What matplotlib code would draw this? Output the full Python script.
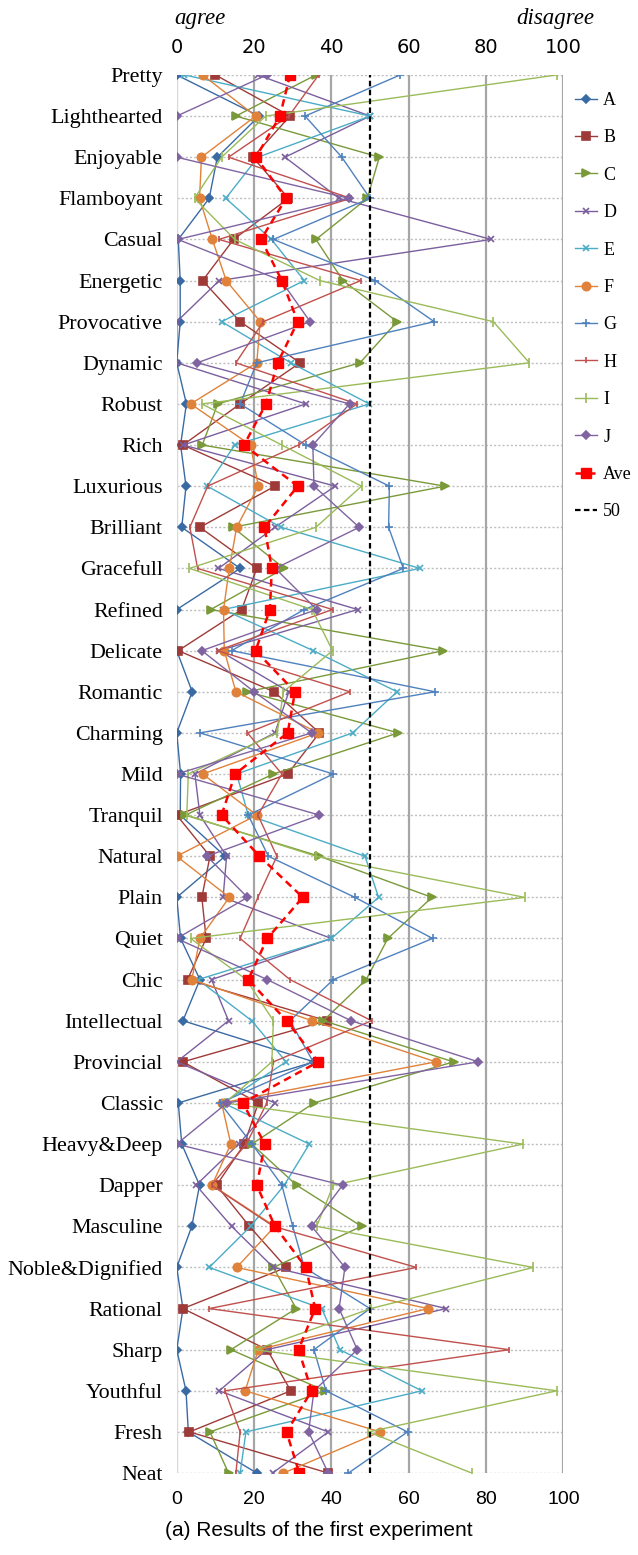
import numpy as np
import matplotlib
matplotlib.use("Agg")
import matplotlib.pyplot as plt

categories = ["Pretty", "Lighthearted", "Enjoyable", "Flamboyant", "Casual", "Energetic",
              "Provocative", "Dynamic", "Robust", "Rich", "Luxurious", "Brilliant",
              "Gracefull", "Refined", "Delicate", "Romantic", "Charming", "Mild",
              "Tranquil", "Natural", "Plain", "Quiet", "Chic", "Intellectual",
              "Provincial", "Classic", "Heavy&Deep", "Dapper", "Masculine",
              "Noble&Dignified", "Rational", "Sharp", "Youthful", "Fresh", "Neat"]

A = [0, 21.3, 10.5, 8.4, 0.4, 0.9, 0.9, 0, 2.5, 1, 2.4, 1.3, 16.4, 0, 0, 4, 0, 1,
     0.9, 12.5, 0, 1, 6, 1.6, 35.5, 0.4, 1.3, 5.9, 3.9, 0, 1.6, 0, 2.4, 3, 20.7]
B = [10, 29.3, 19.7, 28.9, 14.7, 6.7, 16.4, 31.9, 16.4, 1.6, 25.4, 6, 20.7, 16.8, 0.4,
     25.2, 36.9, 28.7, 0, 8.6, 6.5, 7.6, 2.8, 38.8, 1.6, 21.1, 17.5, 10.3, 18.8, 28.3,
     1.6, 23.4, 29.5, 3.3, 39.2]
C = [36, 15.3, 52.4, 49.3, 36, 43, 57, 47.4, 10.6, 6.6, 69.4, 14.5, 27.8, 8.8, 69,
     18.3, 57.3, 25, 2.2, 36.9, 66, 54.6, 49, 37.9, 71.6, 35.5, 19.4, 31, 47.8, 25,
     30.9, 14, 38.4, 8.6, 13.4]
D = [21, 50, 28, 42, 81.3, 11, 0, 0, 33.4, 1.7, 41, 25.4, 10.8, 46.8, 11, 29, 25.4,
     4.7, 6, 12.9, 12, 40, 9, 13.4, 0, 25.4, 16, 5, 14.2, 25, 69.7, 23.3, 11, 39.2, 24.8]
E = [2, 50, 21, 12.7, 24.5, 33, 11.6, 29.5, 49.8, 15, 7.9, 27, 62.9, 12, 35.3, 57,
     45.5, 15.5, 18.5, 48.7, 52.2, 40, 5.5, 19.4, 28.3, 12, 34.3, 27.8, 19.1, 8.4,
     37.5, 42.2, 63.4, 17.9, 16.4]
F = [6.7, 20.4, 6.4, 5.9, 9.2, 12.8, 21.6, 20.7, 3.6, 19.1, 21.1, 15.5, 13.6, 12.1,
     12.3, 15.3, 36.6, 6.7, 20.7, 0, 13.6, 6, 3.9, 35, 67, 11.6, 14, 9.1, 25.4, 15.5,
     65, 21.1, 17.7, 52.6, 27.6]
G = [57.8, 33.2, 42.7, 50, 25, 51.3, 66.6, 20.7, 16.4, 33.4, 55, 54.8, 58.6, 33,
     14.2, 66.8, 6, 40.5, 18.5, 23.7, 46.1, 66.2, 40.5, 29.3, 35.3, 11.2, 19.5, 27.2,
     30, 33, 50, 35.5, 38.6, 59.7, 44.4]
H = [36.7, 29, 13.4, 45, 10.9, 47.6, 22.4, 15.3, 46.6, 31.5, 8, 3.4, 5.4, 40.3, 10.5,
     44.8, 18.3, 27.2, 21, 25.9, 21, 16.4, 29.3, 50.4, 25, 23.3, 18, 9, 25, 62, 8.4,
     86, 12.5, 16.4, 15.3]
I = [98.3, 23, 11.6, 4.6, 15, 37, 81.9, 91.2, 6.5, 27.2, 47.8, 36, 3.3, 35, 40.3,
     27.6, 26, 3, 2.6, 36, 90, 3.6, 18, 25, 24.6, 12.5, 89.5, 40.5, 36.2, 92.2, 50.2,
     20.3, 98.3, 49.6, 76.3]
J = [23.3, 0, 0, 44.5, 0.3, 27, 34.5, 5.3, 44.7, 35.2, 35.5, 47.2, 25.5, 36.2, 6.5,
     20, 34.9, 0, 36.9, 7.8, 18.3, 0, 23.4, 45.1, 78, 13, 0, 42.9, 34.9, 43.5, 42,
     46.7, 35.5, 34.1, 39.2]
Ave = [29.3, 26.7, 20.5, 28.3, 21.8, 27.2, 31.3, 26.1, 23.1, 17.4, 31.3, 22.7, 24.6,
       24.1, 20.4, 30.6, 28.7, 15.1, 11.6, 21.4, 32.6, 23.4, 18.5, 28.4, 36.6, 17.1,
       22.8, 20.7, 25.4, 33.4, 35.8, 31.5, 34.9, 28.4, 31.7]
x_ticks = [0, 20, 40, 60, 80, 100]

# (label, values, colour, marker, markersize)
series = [
    ("A", A, "#3A6AA3", "D", 4),
    ("B", B, "#9E3B38", "s", 5.5),
    ("C", C, "#7A9A3A", ">", 6),
    ("D", D, "#7B5E9E", "x", 5),
    ("E", E, "#4BACC6", "x", 5),
    ("F", F, "#E0823A", "o", 6),
    ("G", G, "#4F81BD", "+", 6),
    ("H", H, "#C0504D", "|", 5),
    ("I", I, "#9BBB59", "|", 7),
    ("J", J, "#8064A2", "D", 4.5),
]

fig = plt.figure(figsize=(6.38, 15.55), dpi=100)
ax = fig.add_axes([0.277, 0.0527, 0.606, 0.8991])

y = np.arange(len(categories))

# dotted row guides and solid vertical grid
for yy in y:
    ax.axhline(yy, color="#BFBFBF", lw=1.0, ls=(0, (1.5, 1.5)), zorder=0)
for xv in x_ticks[1:]:
    ax.axvline(xv, color="#A6A6A6", lw=1.6, zorder=0)
ax.axvline(0, color="#D9D9D9", lw=1.0, zorder=0)

handles = []
for name, vals, col, mk, ms in series:
    h, = ax.plot(vals, y, color=col, lw=1.0, marker=mk, ms=ms, mec=col, mfc=col,
                 mew=1.2, label=name, zorder=2)
    handles.append(h)

h, = ax.plot(Ave, y, color="#FF0000", lw=1.8, ls=(0, (3, 2)), marker="s", ms=6.5,
             mec="#FF0000", mfc="#FF0000", label="Ave", zorder=4)
handles.append(h)
h = ax.axvline(50, color="black", lw=1.6, ls=(0, (2.5, 1.5)), zorder=3, label="50")
handles.append(h)

ax.set_xlim(0, 100)
ax.set_ylim(len(categories) - 1, 0)
ax.set_xticks(x_ticks)
ax.set_yticks(y)
ax.set_yticklabels(categories, family="Liberation Serif", fontsize=15.8)
for lab in ax.get_xticklabels():
    lab.set_family("Liberation Sans")
ax.tick_params(axis="x", labeltop=True, labelbottom=True, length=0, labelsize=14)
ax.tick_params(axis="x", which="both", pad=13)
ax.tick_params(axis="y", length=0, pad=10)
for s in ax.spines.values():
    s.set_visible(False)
ax.grid(False)

fig.text(0.313, 0.988, "agree", family="Liberation Serif", style="italic", fontsize=16.5,
         ha="center", va="center")
fig.text(0.870, 0.988, "disagree", family="Liberation Serif", style="italic", fontsize=16.5,
         ha="center", va="center")

leg = ax.legend(handles=handles, loc="upper left", bbox_to_anchor=(1.012, 0.993),
                frameon=False, handlelength=1.2, handletextpad=0.35, labelspacing=1.13,
                prop={"family": "Liberation Serif", "size": 13}, borderaxespad=0)

fig.text(0.5, 0.016, "(a) Results of the first experiment", family="Liberation Sans",
         fontsize=15, ha="center", va="center")

fig.savefig("out.png", dpi=100)
